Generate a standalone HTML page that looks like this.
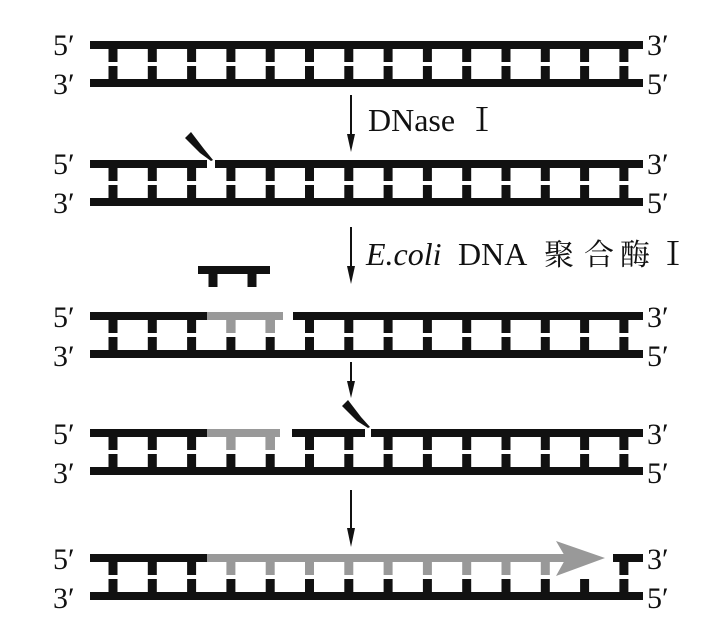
<!DOCTYPE html>
<html><head><meta charset="utf-8"><style>
html,body{margin:0;padding:0;background:#fff;}
svg{display:block;}
</style></head><body>
<svg width="723" height="641" viewBox="0 0 723 641" xmlns="http://www.w3.org/2000/svg" font-family="'Liberation Serif', 'Noto Serif CJK SC', serif">
<defs>
<g id="rungs">
<rect x="108.5" y="0" width="9" height="13"/><rect x="147.8" y="0" width="9" height="13"/><rect x="187.1" y="0" width="9" height="13"/><rect x="226.4" y="0" width="9" height="13"/><rect x="265.7" y="0" width="9" height="13"/><rect x="305" y="0" width="9" height="13"/><rect x="344.3" y="0" width="9" height="13"/><rect x="383.6" y="0" width="9" height="13"/><rect x="422.9" y="0" width="9" height="13"/><rect x="462.2" y="0" width="9" height="13"/><rect x="501.5" y="0" width="9" height="13"/><rect x="540.8" y="0" width="9" height="13"/><rect x="580.1" y="0" width="9" height="13"/><rect x="619.4" y="0" width="9" height="13"/>
</g>
<g id="bottomhalf">
<use href="#rungs" y="21"/>
<rect x="90" y="34" width="553" height="8"/>
</g>
<g id="full">
<rect x="90" y="-4" width="553" height="8"/>
<use href="#rungs" y="4"/>
<use href="#bottomhalf"/>
</g>
</defs>

<g fill="#111" transform="translate(0,45)"><use href="#full"/></g>

<g fill="#111" transform="translate(0,164)">
<use href="#bottomhalf"/>
<use href="#rungs" y="4"/>
<rect x="90" y="-4" width="117" height="8"/>
<rect x="215" y="-4" width="428" height="8"/>
</g>
<polygon points="185,138 191,132 204,149 213,160 211,161 200,153" fill="#111"/>

<g transform="translate(0,316)">
<g fill="#111"><use href="#bottomhalf"/><use href="#rungs" y="4"/></g>
<rect x="90" y="-4" width="117" height="8" fill="#111"/>
<rect x="207" y="-4" width="76" height="8" fill="#999"/>
<rect x="226.4" y="4" width="9" height="13" fill="#999"/>
<rect x="265.7" y="4" width="9" height="13" fill="#999"/>
<rect x="293" y="-4" width="350" height="8" fill="#111"/>
</g>
<rect x="198" y="266" width="72" height="8" fill="#111"/>
<rect x="208.5" y="274" width="9" height="13" fill="#111"/>
<rect x="247.5" y="274" width="9" height="13" fill="#111"/>

<g transform="translate(0,433)">
<g fill="#111"><use href="#bottomhalf"/><use href="#rungs" y="4"/></g>
<rect x="90" y="-4" width="117" height="8" fill="#111"/>
<rect x="207" y="-4" width="73" height="8" fill="#999"/>
<rect x="226.4" y="4" width="9" height="13" fill="#999"/>
<rect x="265.7" y="4" width="9" height="13" fill="#999"/>
<rect x="292" y="-4" width="73" height="8" fill="#111"/>
<rect x="371" y="-4" width="272" height="8" fill="#111"/>
</g>
<polygon points="342,406 348,400 361,417 370,427 368,428 357,421" fill="#111"/>

<g transform="translate(0,558)">
<g fill="#111"><use href="#bottomhalf"/></g>
<rect x="90" y="-4" width="117" height="8" fill="#111"/>
<rect x="108.5" y="4" width="9" height="13" fill="#111"/>
<rect x="147.8" y="4" width="9" height="13" fill="#111"/>
<rect x="187.1" y="4" width="9" height="13" fill="#111"/>
<g fill="#999">
<rect x="207" y="-4" width="360" height="8"/>
<rect x="226.4" y="4" width="9" height="13"/><rect x="265.7" y="4" width="9" height="13"/><rect x="305" y="4" width="9" height="13"/><rect x="344.3" y="4" width="9" height="13"/><rect x="383.6" y="4" width="9" height="13"/><rect x="422.9" y="4" width="9" height="13"/><rect x="462.2" y="4" width="9" height="13"/><rect x="501.5" y="4" width="9" height="13"/><rect x="540.8" y="4" width="9" height="13"/>
<polygon points="556,-17 605,0 556,18 566,0"/>
</g>
<rect x="613" y="-4" width="30" height="8" fill="#111"/>
<rect x="619.4" y="4" width="9" height="13" fill="#111"/>
</g>

<g fill="#111" stroke="#111">
<line x1="351" y1="95" x2="351" y2="138" stroke-width="2"/>
<polygon points="347,134 355,134 351,152" stroke="none"/>
<line x1="351" y1="227" x2="351" y2="270" stroke-width="2"/>
<polygon points="347,266 355,266 351,284" stroke="none"/>
<line x1="351" y1="362" x2="351" y2="385" stroke-width="2"/>
<polygon points="347,381 355,381 351,398" stroke="none"/>
<line x1="351" y1="490" x2="351" y2="532" stroke-width="2"/>
<polygon points="347,528 355,528 351,547" stroke="none"/>
</g>

<g fill="#111" font-family="'Liberation Serif', 'Noto Serif CJK SC', serif" font-size="32">
<text x="368" y="131">DNase</text>
<text x="466" y="131">Ⅰ</text>
<text x="366" y="265" font-style="italic">E.coli</text>
<text x="458" y="265">DNA</text>
<text x="544" y="265" font-size="30">聚</text>
<text x="584" y="265" font-size="30">合</text>
<text x="620" y="265" font-size="30">酶</text>
<text x="657" y="265">Ⅰ</text>
</g>

<g font-size="30" fill="#111" font-family="'Liberation Serif', serif">
<text x="53" y="55">5′</text><text x="53" y="94">3′</text>
<text x="53" y="174">5′</text><text x="53" y="213">3′</text>
<text x="53" y="327">5′</text><text x="53" y="366">3′</text>
<text x="53" y="444">5′</text><text x="53" y="483">3′</text>
<text x="53" y="569">5′</text><text x="53" y="608">3′</text>
<text x="647" y="55">3′</text><text x="647" y="94">5′</text>
<text x="647" y="174">3′</text><text x="647" y="213">5′</text>
<text x="647" y="327">3′</text><text x="647" y="366">5′</text>
<text x="647" y="444">3′</text><text x="647" y="483">5′</text>
<text x="647" y="569">3′</text><text x="647" y="608">5′</text>
</g>
</svg>
</body></html>
